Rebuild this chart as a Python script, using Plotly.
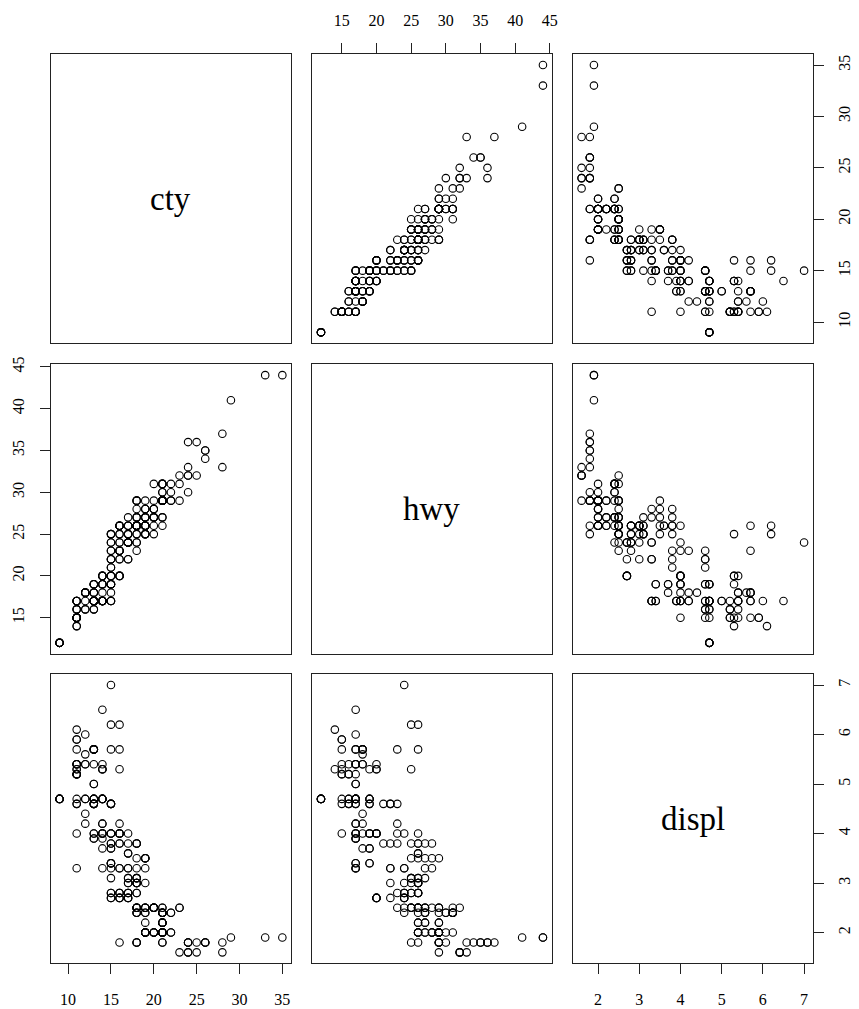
import plotly.graph_objects as go

# mpg data: city mpg, highway mpg, engine displacement
cty = [18,21,20,21,16,18,18, 18,16,20,19,15,17,17,15, 15,17,16, 14,11,14,13,12,
       16,15,16,15,15, 14,11,11,14, 19,22,18,18,17, 18,17,16,16,17,17,11,15,15,16,16,
       15,14,13,14,14,14,9,11,11, 13,13,9,13,11,13,11, 12,9,13,13,12,9,11,11,13,11,
       11,11,12, 14,15,14,13,13,13, 14,14,13,13,13,11,13, 18,18,17,16,15,15,15,15,14,
       28,24,25,23,24,26,25,24,21, 18,18,21,21,18,18,19, 19,19,20,20,17,16,17,
       17,15,15,14,9,14,13,11, 11,12,12,11, 11,11,12, 14,13,13,13, 21,19,23,23,19,19,
       18,19,19, 14,15,14,12, 18,16,17,18,16, 18,18,20,19,20,18, 21,19,19,19,20,20,19,20,
       15,16,15,15,16,14, 21,21,21,21,18,18,19, 21,21,21,22,18,18,18, 24,24,26,28,26,
       11,13, 15,16,17,15,15,15,16, 21,19,21,22,17, 33,21,19,22,21,21,21,16,17,
       35,29,21,19,20,20, 21,18,19,21,16,18,17]

hwy = [29,29,31,30,26,26,27, 26,25,28,27,25,25,25,25, 24,25,23, 20,15,20,17,17,
       26,23,26,25,24, 19,14,15,17, 27,30,26,29,26, 24,24,22,22,24,24,17,22,21,23,23,
       19,18,17,17,19,19,12,17,15, 17,17,12,17,16,18,15, 16,12,17,17,16,12,15,16,17,15,
       17,17,18, 17,19,17,19,19,17, 17,17,16,16,17,15,17, 26,25,26,24,21,22,23,22,20,
       33,32,32,29,32,34,36,36,29, 26,27,30,31,26,26,28, 26,29,28,27,24,24,24,
       22,19,20,17,12,19,18,14, 15,18,18,15, 17,16,18, 17,19,19,17, 29,27,31,32,27,26,
       26,25,25, 17,17,20,18, 26,26,27,28,25, 25,24,27,25,26,23, 26,26,26,26,25,27,25,27,
       20,20,19,17,20,17, 29,27,31,31,26,26,28, 27,29,31,31,26,26,27, 30,33,35,37,35,
       15,18, 20,20,22,17,19,18,20, 29,26,29,29,24, 44,29,26,29,29,29,29,23,24,
       44,41,29,26,28,29, 29,29,28,29,26,26,26]

displ = [1.8,1.8,2.0,2.0,2.8,2.8,3.1, 1.8,1.8,2.0,2.0,2.8,2.8,3.1,3.1, 2.8,3.1,4.2,
         5.3,5.3,5.3,5.7,6.0, 5.7,5.7,6.2,6.2,7.0, 5.3,5.3,5.7,6.5, 2.4,2.4,3.1,3.5,3.6,
         2.4,3.0,3.3,3.3,3.3,3.3,3.3,3.8,3.8,3.8,4.0, 3.7,3.7,3.9,3.9,4.7,4.7,4.7,5.2,5.2,
         3.9,4.7,4.7,4.7,5.2,5.7,5.9, 4.7,4.7,4.7,4.7,4.7,4.7,5.2,5.2,5.7,5.9,
         4.6,5.4,5.4, 4.0,4.0,4.0,4.0,4.6,5.0, 4.2,4.2,4.6,4.6,4.6,5.4,5.4,
         3.8,3.8,4.0,4.0,4.6,4.6,4.6,4.6,5.4, 1.6,1.6,1.6,1.6,1.6,1.8,1.8,1.8,2.0,
         2.4,2.4,2.4,2.4,2.5,2.5,3.3, 2.0,2.0,2.0,2.0,2.7,2.7,2.7,
         3.0,3.7,4.0,4.7,4.7,4.7,5.7,6.1, 4.0,4.2,4.4,4.6, 5.4,5.4,5.4, 4.0,4.0,4.6,5.0,
         2.4,2.4,2.5,2.5,3.5,3.5, 3.0,3.0,3.5, 3.3,3.3,4.0,5.6, 3.1,3.8,3.8,3.8,5.3,
         2.5,2.5,2.5,2.5,2.5,2.5, 2.2,2.2,2.5,2.5,2.5,2.5,2.5,2.5, 2.7,2.7,3.4,3.4,4.0,4.7,
         2.2,2.2,2.4,2.4,3.0,3.0,3.5, 2.2,2.2,2.4,2.4,3.0,3.0,3.3, 1.8,1.8,1.8,1.8,1.8,
         4.7,5.7, 2.7,2.7,2.7,3.4,3.4,4.0,4.0, 2.0,2.0,2.0,2.0,2.8,
         1.9,2.0,2.0,2.0,2.0,2.5,2.5,2.8,2.8, 1.9,1.9,2.0,2.0,2.5,2.5,
         1.8,1.8,2.0,2.0,2.8,2.8,3.6]

var_names = ["cty", "hwy", "displ"]
var_data = [cty, hwy, displ]
tick_vals = [[10, 15, 20, 25, 30, 35],
             [15, 20, 25, 30, 35, 40, 45],
             [2, 3, 4, 5, 6, 7]]

W, H = 859, 1009
col_px = [(51.0, 293.3), (314.3, 555.7), (576.7, 818.7)]
row_px = [(46.7, 337.7), (359.3, 650.7), (671.7, 962.7)]

def rng(v):
    lo, hi = min(v), max(v)
    d = (hi - lo) * 0.04
    return [lo - d, hi + d]

FONT = "Liberation Serif, Times New Roman, serif"
LINE = "#222222"
STANDOFF = {"top": 11, "bottom": 12, "left": 9, "right": 7}

fig = go.Figure()
layout = {}

# which panels carry axis ticks (R pairs style)
x_tick_panels = {(0, 1): "top", (2, 0): "bottom", (2, 2): "bottom"}
y_tick_panels = {(0, 2): "right", (1, 0): "left", (2, 2): "right"}

for i in range(3):
    for j in range(3):
        k = i * 3 + j + 1
        xa = "xaxis" if k == 1 else f"xaxis{k}"
        ya = "yaxis" if k == 1 else f"yaxis{k}"
        xref = "x" if k == 1 else f"x{k}"
        yref = "y" if k == 1 else f"y{k}"
        xd = [col_px[j][0] / W, col_px[j][1] / W]
        yd = [1 - row_px[i][1] / H, 1 - row_px[i][0] / H]

        xaxis = dict(domain=xd, range=rng(var_data[j]), anchor=yref,
                     showgrid=False, zeroline=False, showline=True, mirror=True,
                     linecolor=LINE, linewidth=1, fixedrange=True)
        yaxis = dict(domain=yd, range=rng(var_data[i]), anchor=xref,
                     showgrid=False, zeroline=False, showline=True, mirror=True,
                     linecolor=LINE, linewidth=1, fixedrange=True)
        if (i, j) in x_tick_panels:
            side = x_tick_panels[(i, j)]
            xaxis.update(side=side, ticks="outside", ticklen=10,
                         tickwidth=1, tickcolor=LINE, tickvals=tick_vals[j],
                         showticklabels=True, tickfont=dict(family=FONT, size=16, color="black"),
                         ticklabelstandoff=STANDOFF[side])
        else:
            xaxis.update(ticks="", showticklabels=False)
        if (i, j) in y_tick_panels:
            side = y_tick_panels[(i, j)]
            yaxis.update(side=side, ticks="outside", ticklen=10,
                         tickwidth=1, tickcolor=LINE, tickvals=tick_vals[i],
                         showticklabels=True, tickangle=-90,
                         tickfont=dict(family=FONT, size=16, color="black"),
                         ticklabelstandoff=STANDOFF[side])
        else:
            yaxis.update(ticks="", showticklabels=False)
        layout[xa] = xaxis
        layout[ya] = yaxis

        if i == j:
            # empty trace so the panel box and axes are drawn
            fig.add_trace(go.Scatter(x=[None], y=[None], mode="markers",
                                     xaxis=xref, yaxis=yref, showlegend=False,
                                     hoverinfo="skip"))
            fig.add_annotation(text=var_names[i], xref=f"{xref} domain", yref=f"{yref} domain",
                               x=0.5, y=0.5, showarrow=False,
                               font=dict(family=FONT, size=33, color="black"))
        else:
            fig.add_trace(go.Scatter(
                x=var_data[j], y=var_data[i], mode="markers", xaxis=xref, yaxis=yref,
                marker=dict(symbol="circle-open", size=7.5, color="black",
                            line=dict(width=1.1, color="black")),
                showlegend=False, hoverinfo="skip"))

fig.update_layout(width=W, height=H, margin=dict(l=0, r=0, t=0, b=0),
                  paper_bgcolor="white", plot_bgcolor="white", showlegend=False,
                  **layout)
fig.write_html("out.html")
